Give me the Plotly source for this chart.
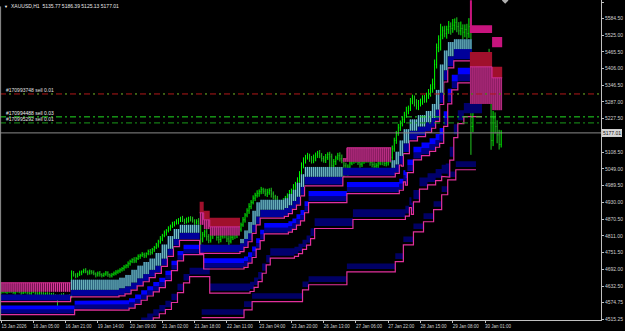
import numpy as np
import plotly.graph_objects as go

nan = float("nan")

# ---------------- price data (XAUUSD H1) ----------------
first_open = 4610.0
close = [4614, 4618, 4611, 4616, 4620, 4613, 4609, 4615, 4619, 4612,
         4608, 4612, 4617, 4610, 4606, 4611, 4615, 4608, 4604, 4609,
         4605, 4600, 4606, 4602, 4598, 4603, 4599, 4594, 4590, 4597,
         4600, 4595, 4591, 4597, 4594,
         4678,
         4672, 4668, 4675, 4680, 4684, 4688, 4683, 4679, 4685, 4681,
         4676, 4672, 4678, 4674, 4670, 4675, 4679, 4673, 4669, 4674,
         4678, 4682, 4686,
         4690, 4695, 4700, 4706, 4712, 4720, 4726, 4722, 4730, 4738,
         4742, 4745, 4740, 4748, 4755, 4752, 4762, 4770, 4778, 4790,
         4800, 4812, 4822, 4830, 4838, 4845, 4852, 4858, 4862, 4868,
         4872, 4866, 4862, 4868, 4874, 4870, 4864, 4858, 4862, 4856,
         4800,
         4815, 4825, 4808, 4795, 4812, 4830, 4820, 4805, 4798, 4810,
         4822, 4815, 4800, 4792, 4806, 4818, 4812, 4825, 4835,
         4850, 4868, 4885, 4900, 4915, 4930, 4945, 4955, 4962,
         4968, 4975, 4970, 4960, 4966, 4972, 4960, 4950, 4942,
         4930, 4920, 4925, 4935, 4945,
         4955, 4962, 4970, 4985, 4995, 5010, 5030,
         5060, 5080,
         5090, 5095, 5085, 5078, 5088, 5098, 5105, 5095, 5086, 5080,
         5090, 5100, 5092, 5060, 5075, 5088, 5096, 5085, 5078,
         5060, 5035, 5055,
         5070, 5078, 5085, 5080, 5072, 5066, 5075, 5082, 5088, 5080,
         5072, 5064, 5058, 5062, 5070, 5078, 5074, 5068, 5072, 5080, 5090,
         5120, 5150, 5175, 5195, 5210,
         5225, 5240, 5255, 5265, 5290, 5300, 5285, 5270, 5280, 5290,
         5300, 5295, 5310, 5320, 5335, 5350,
         5420, 5480, 5510,
         5525, 5540, 5530, 5545, 5555, 5548, 5560, 5570, 5555, 5540,
         5548, 5535, 5545, 5530, 5555,
         5200,
         5300, 5350, 5400, 5380, 5420, 5360, 5400, 5440, 5400,
         5150,
         5230, 5200, 5170, 5135.77,
         5177.01]

upper_wick = [6, 4, 7, 5, 3, 6, 8, 4, 5, 7, 6, 5, 3, 7, 6, 4, 5, 8, 6, 4,
              5, 7, 4, 6, 8, 5, 6, 4, 7, 5, 6, 8, 5, 4, 6,
              10,
              8, 6, 5, 7, 4, 6, 8, 5, 6, 4, 7, 5, 6, 8, 4, 5, 7, 6, 4, 5, 6, 7, 5,
              6, 5, 7, 4, 8, 6, 5, 9, 6, 7, 5, 8, 6, 4, 7, 9, 6, 5, 8, 7,
              10, 6, 8, 5, 7, 6, 9, 5, 8, 6, 7, 10, 6, 8, 5, 7, 9, 6, 8, 12,
              37,
              10, 8, 12, 9, 7, 11, 8, 10, 9, 12, 8, 7, 10, 12, 9, 8, 11, 9, 10,
              8, 10, 7, 9, 12, 8, 10, 9, 11, 8, 10, 7, 9, 12, 8, 10, 9, 7, 11, 8,
              9, 10, 8, 7, 12, 9, 10, 8, 9, 11,
              12, 10, 9, 11, 8, 10, 12, 9, 8, 11, 10, 9, 12, 8, 10, 11, 9, 8, 10, 12,
              15, 9, 11, 10, 8, 9, 12, 10, 8, 11, 9, 10, 12, 8, 9, 11, 10, 9, 8, 12,
              10, 9, 11, 8, 10,
              12, 10, 9, 14, 11, 10, 12, 15, 9, 11, 13, 10, 12, 14, 9, 11, 12, 10, 13, 15,
              20, 18, 15, 14, 40, 16, 18, 13, 20, 15, 22, 14, 18, 16, 25, 15, 18, 20, 30,
              45,
              30, 25, 40, 28, 35, 25, 30, 20, 36,
              36,
              25, 20, 22, 18, 9.38]

lower_wick = [5, 7, 4, 6, 8, 5, 4, 7, 6, 5, 7, 4, 6, 8, 5, 6, 4, 7, 9, 5,
              6, 8, 5, 7, 6, 4, 8, 6, 52, 7, 6, 5, 8, 6, 5,
              5,
              6, 8, 5, 7, 9, 6, 5, 8, 6, 7, 5, 9, 6, 8, 7, 5, 6, 8, 7, 6, 5, 7, 6,
              7, 6, 8, 5, 9, 7, 6, 8, 7, 5, 9, 6, 8, 7, 6, 10, 7, 8, 6, 9,
              7, 8, 6, 10, 7, 9, 6, 8, 7, 10, 8, 6, 9, 7, 10, 8, 6, 9, 7, 8,
              38,
              12, 9, 14, 10, 8, 12, 9, 11, 14, 10, 9, 13, 11, 15, 8, 10, 12, 9, 8,
              9, 7, 10, 8, 11, 9, 7, 10, 8, 12, 9, 10, 8, 11, 9, 13, 10, 8, 9, 11,
              8, 10, 9, 12, 8, 10, 9, 11, 8, 10,
              10, 9, 12, 8, 11, 10, 9, 12, 10, 8, 11, 9, 10, 9, 45, 11, 10, 12, 8, 10,
              9, 40, 9, 10, 12, 8, 11, 10, 9, 13, 10, 8, 11, 9, 12, 10, 9, 11, 10, 8,
              12, 9, 10, 11, 9,
              9, 10, 12, 8, 11, 10, 13, 9, 12, 10, 11, 14, 10, 12, 9, 13, 11, 10, 12, 14,
              15, 18, 14, 16, 40, 15, 13, 18, 16, 22, 15, 18, 20, 14, 16, 25, 18, 20, 15,
              101,
              20, 35, 25, 40, 30, 45, 28, 35, 30,
              33,
              20, 25, 30, 18, 10.64]

# ---------------- axis labels ----------------
x_tick_bars = [0, 16, 32, 48, 64, 80, 96, 112, 128, 144, 160, 176, 192, 208, 224, 240]
x_tick_labels = ["15 Jan 2026", "16 Jan 05:00", "16 Jan 21:00", "19 Jan 14:00",
                 "20 Jan 09:00", "21 Jan 02:00", "21 Jan 18:00", "22 Jan 11:00",
                 "23 Jan 04:00", "23 Jan 20:00", "26 Jan 13:00", "27 Jan 06:00",
                 "27 Jan 22:00", "28 Jan 15:00", "29 Jan 08:00", "30 Jan 01:00"]
y_tick_values = [5642.50, 5584.50, 5525.00, 5465.50, 5406.00, 5346.50, 5287.00,
                 5227.50, 5108.50, 5049.00, 4989.50, 4930.00, 4870.50, 4811.00,
                 4751.50, 4692.00, 4632.50, 4574.75, 4515.25]
y_tick_labels = ["%.2f" % v for v in y_tick_values]

# ---------------- indicator: support ribbons (step breakpoints) ----------------
sup_bar = [0, 35, 59, 62, 65, 68, 71, 74, 77, 80,
           83, 86, 89, 99, 119, 121, 123, 125, 127, 129,
           141, 143, 145, 147, 149, 151, 170, 194, 196, 198,
           200, 203, 207, 211, 214, 216, 218, 220, 222, 225, 234]
sup_fast = [4602, 4655, 4662, 4672, 4690, 4705, 4718, 4730, 4750, 4780,
            4810, 4835, 4850, 4779, 4800, 4830, 4860, 4900, 4930, 4939,
            4945, 4960, 4975, 5000, 5030, 5056, 5053, 5080, 5110, 5150,
            5190, 5225, 5240, 5255, 5280, 5330, 5420, 5470, 5500, 5510, nan]
sup_slow = [4602, 4619, 4625, 4632, 4645, 4660, 4675, 4690, 4705, 4730,
            4765, 4800, 4822, 4779, 4785, 4800, 4820, 4850, 4880, 4904,
            4910, 4920, 4935, 4950, 4985, 5021, 5053, 5053, 5065, 5095,
            5140, 5185, 5200, 5215, 5230, 5260, 5320, 5400, 5450, 5475, nan]
# ribbon width unit (price) - grows with volatility
unit_bar = [0, 59, 99, 149, 199, 216]
unit_price = [3.55, 3.9, 4.3, 4.6, 5.2, 6.0]
# deeper support ribbons: distance below slow line (in units) and lag (bars)
sup_band_top_off = [0, 11, 15, 32]
sup_band_bot_off = [6, 15, 19, 38]
sup_band_lag = [0, 2, 2, 5]
sup_line_off = [7, 20, 40]
sup_line_lag = [0, 2, 5]
# slowest support line
deep_bar = [100, 121, 125, 150, 153, 172, 196, 200, 205, 210, 215, 219, 222, 226, 236]
deep_level = [4520, 4548, 4577, 4619, 4637, 4683, 4719, 4779, 4825, 4861, 4904, 4957, 5010, 5046, nan]
deep_band_top = 30
deep_band_bot = 10

# ---------------- indicator: resistance ribbons ----------------
res_bar = [0, 35, 99, 101, 104, 119, 170, 172, 194, 233, 234, 244]
res_low = [4612, nan, 4850, 4835, 4812, nan, 5074, 5074, nan, 5280, 5280, 5258]
res_mid = [4644, nan, 4893, 4868, 4843, nan, 5085, 5124, nan, 5412, 5412, 5373]
res_top = [4644, nan, 4932, 4900, 4875, nan, 5085, 5124, nan, 5465, 5465, 5412]
res2_low = [nan, nan, nan, nan, nan, nan, nan, nan, nan, 5532, 5532, 5482]
res2_top = [nan, nan, nan, nan, nan, nan, nan, nan, nan, 5649, 5560, 5518]

# ---------------- order lines ----------------
order_sl_level = 5315.5
order_levels = [5234.0, 5212.5]
order_texts = ["#170993748 sell 0.01", "#170994488 sell 0.03", "#170995292 sell 0.01"]
bid_price = 5177.01
header_text = "XAUUSD,H1  5135.77 5186.39 5125.13 5177.01"

# =====================================================================
n = len(close)
idx = np.arange(n)
c = np.array(close, float)
o = np.concatenate([[first_open], c[:-1]])
h = np.maximum(o, c) + np.array(upper_wick, float)
l = np.minimum(o, c) - np.array(lower_wick, float)


def expand(bars, vals, size):
    out = np.full(size, np.nan)
    for k, b in enumerate(bars):
        e = bars[k + 1] if k + 1 < len(bars) else size
        out[b:e] = vals[k]
    return out


def shift(arr, lag):
    if lag == 0:
        return arr.copy()
    out = np.empty_like(arr)
    out[lag:] = arr[:-lag]
    out[:lag] = arr[0]
    return out


def runs(mask):
    out, s = [], None
    for i, m in enumerate(mask):
        if m and s is None:
            s = i
        if not m and s is not None:
            out.append((s, i))
            s = None
    if s is not None:
        out.append((s, len(mask)))
    return out


fig = go.Figure()


def add_band(top, bot, color):
    mask = (~np.isnan(top)) & (~np.isnan(bot)) & (top > bot)
    for s, e in runs(mask):
        xs, ys = [], []
        for i in range(s, e):
            xs += [i - 0.5, i + 0.5]
            ys += [top[i], top[i]]
        for i in range(e - 1, s - 1, -1):
            xs += [i + 0.5, i - 0.5]
            ys += [bot[i], bot[i]]
        fig.add_trace(go.Scatter(x=xs, y=ys, fill="toself", fillcolor=color, mode="lines",
                                 line=dict(width=0, color=color), hoverinfo="skip",
                                 showlegend=False))


def add_hatch(top, bot, color, width=1.0):
    xs, ys = [], []
    for i in range(n):
        if np.isnan(top[i]) or np.isnan(bot[i]) or top[i] <= bot[i]:
            continue
        xs += [i, i, None]
        ys += [top[i], bot[i], None]
    fig.add_trace(go.Scatter(x=xs, y=ys, mode="lines", line=dict(color=color, width=width),
                             hoverinfo="skip", showlegend=False))


def add_step(vals, color, width=1.2):
    xs, ys = [], []
    for i in range(n):
        if np.isnan(vals[i]):
            xs.append(None)
            ys.append(None)
            continue
        xs += [i - 0.5, i + 0.5]
        ys += [vals[i], vals[i]]
    fig.add_trace(go.Scatter(x=xs, y=ys, mode="lines", line=dict(color=color, width=width),
                             hoverinfo="skip", showlegend=False, connectgaps=False))


fast = expand(sup_bar, sup_fast, n)
slow = expand(sup_bar, sup_slow, n)
unit = expand(unit_bar, unit_price, n)
deep = expand(deep_bar, deep_level, n)

band_colors = ["#00009a", "#0000ff", "#000086", "#00006c"]
MAG = "#e2309c"

# slowest ribbon
add_band(deep + deep_band_top, deep + deep_band_bot, "#000064")
add_step(deep, MAG, 1.2)
# deeper ribbons first
for k in [3, 2, 1, 0]:
    lag = sup_band_lag[k]
    base = shift(slow, lag)
    u = shift(unit, lag)
    add_band(base - sup_band_top_off[k] * u, base - sup_band_bot_off[k] * u, band_colors[k])
for k in [2, 1, 0]:
    lag = sup_line_lag[k]
    base = shift(slow, lag)
    u = shift(unit, lag)
    add_step(base - sup_line_off[k] * u, MAG, 1.2)

# teal hatch between fast and slow (on a dark teal backing)
add_band(fast, slow, "#17486a")
add_hatch(fast, slow, "#7cc8cc", 1.0)

# resistance
rl = expand(res_bar, res_low, n)
rm = expand(res_bar, res_mid, n)
rt = expand(res_bar, res_top, n)
r2l = expand(res_bar, res2_low, n)
r2t = expand(res_bar, res2_top, n)
add_band(rt, rm, "#a0102c")
add_band(r2t, r2l, "#c8147e")
add_band(rm, rl, "#5a0c40")
add_hatch(rm, rl, "#e03c9e", 1.0)
add_step(rm, "#d82c94", 1.0)

# price bars
fig.add_trace(go.Ohlc(x=idx, open=o, high=h, low=l, close=c,
                      increasing=dict(line=dict(color="#00ff00", width=1)),
                      decreasing=dict(line=dict(color="#22c822", width=1)),
                      tickwidth=0.25, hoverinfo="skip", showlegend=False))

# marker at top (trade arrow)
fig.add_trace(go.Scatter(x=[250], y=[5648], mode="markers",
                         marker=dict(symbol="diamond", size=5, color="#b0b0b0"),
                         cliponaxis=True, hoverinfo="skip", showlegend=False))

shapes = []
shapes.append(dict(type="line", xref="paper", x0=0, x1=1, yref="y", y0=order_sl_level, y1=order_sl_level,
                   line=dict(color="#b01818", width=1, dash="6px,3px,2px,3px")))
shapes.append(dict(type="line", xref="paper", x0=0, x1=1, yref="y", y0=order_sl_level, y1=order_sl_level,
                   line=dict(color="#1fb01f", width=1, dash="0px,9px,2px,3px")))
shapes.append(dict(type="line", xref="paper", x0=0, x1=1, yref="y", y0=order_levels[0], y1=order_levels[0],
                   line=dict(color="#22dd22", width=1, dash="6px,3px,2px,3px")))
shapes.append(dict(type="line", xref="paper", x0=0, x1=1, yref="y", y0=order_levels[1], y1=order_levels[1],
                   line=dict(color="#1a9a1a", width=1, dash="6px,3px,2px,3px")))
shapes.append(dict(type="line", xref="paper", x0=0, x1=1, yref="y", y0=bid_price, y1=bid_price,
                   line=dict(color="#8a8a8a", width=1)))
shapes.append(dict(type="line", xref="paper", x0=0.001, x1=0.001, yref="paper", y0=0, y1=0.98,
                   line=dict(color="#909090", width=1)))

FONT = "Liberation Sans"
ann = []
ann.append(dict(xref="paper", yref="paper", x=0.003, y=0.995, xanchor="left", yanchor="top",
                text="\u25bc", showarrow=False, font=dict(size=4, color="#ffffff", family=FONT)))
ann.append(dict(xref="paper", yref="paper", x=0.015, y=0.997, xanchor="left", yanchor="top",
                text=header_text, showarrow=False, font=dict(size=5, color="#e8e8e8", family=FONT)))
ann.append(dict(xref="paper", yref="y", x=0.006, y=order_sl_level, xanchor="left", yanchor="bottom",
                text=order_texts[0], showarrow=False, yshift=-1, font=dict(size=5, color="#e0e0e0", family=FONT)))
ann.append(dict(xref="paper", yref="y", x=0.006, y=order_levels[0], xanchor="left", yanchor="bottom",
                text=order_texts[1], showarrow=False, yshift=-1, font=dict(size=5, color="#f0f0f0", family=FONT)))
ann.append(dict(xref="paper", yref="y", x=0.006, y=order_levels[1], xanchor="left", yanchor="bottom",
                text=order_texts[2], showarrow=False, yshift=-1, font=dict(size=5, color="#e0e0e0", family=FONT)))
ann.append(dict(xref="paper", yref="y", x=1.0, y=bid_price, xanchor="left", yanchor="middle", xshift=1,
                text="%.2f" % bid_price, showarrow=False, bgcolor="#d8d8d8", bordercolor="#ffffff",
                borderwidth=0.5, borderpad=0.5, font=dict(size=5, color="#101010", family=FONT)))

fig.update_layout(
    width=625, height=331,
    margin=dict(l=0, r=24, t=0, b=11),
    paper_bgcolor="#000000", plot_bgcolor="#000000",
    showlegend=False,
    shapes=shapes, annotations=ann,
    xaxis=dict(range=[-0.5, 297.5], showgrid=False, zeroline=False,
               tickmode="array", tickvals=x_tick_bars, ticktext=x_tick_labels,
               ticks="outside", ticklen=2, tickcolor="#c0c0c0", tickwidth=1,
               tickfont=dict(size=4.5, color="#d0d0d0", family=FONT),
               ticklabelshift=13, ticklabelstandoff=0,
               showline=True, linecolor="#c0c0c0", linewidth=1,
               rangeslider=dict(visible=False), automargin=False, fixedrange=True),
    yaxis=dict(range=[4511.7, 5649.6], side="right", showgrid=False, zeroline=False,
               tickmode="array", tickvals=y_tick_values, ticktext=y_tick_labels,
               ticks="outside", ticklen=2, tickcolor="#c0c0c0", tickwidth=1,
               tickfont=dict(size=5, color="#d0d0d0", family=FONT),
               showline=True, linecolor="#c0c0c0", linewidth=1,
               automargin=False, fixedrange=True),
)

fig.write_html("out.html", config={"displayModeBar": False})
